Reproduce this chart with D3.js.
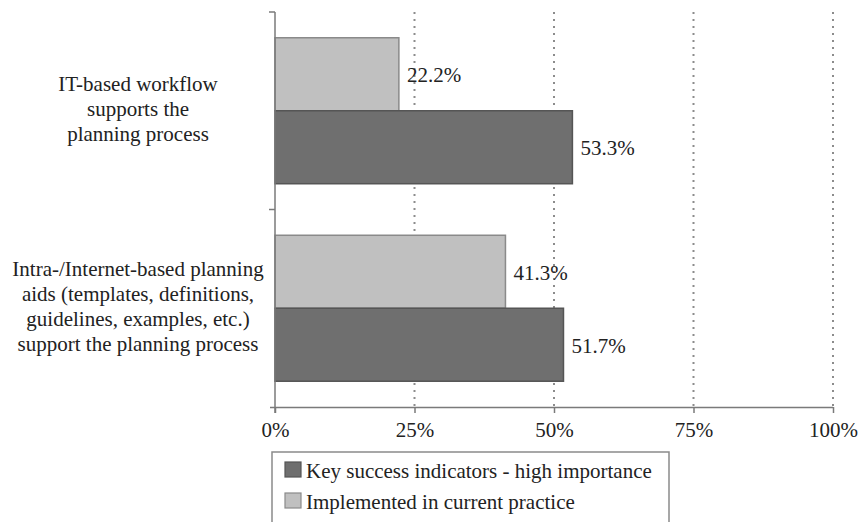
<!DOCTYPE html>
<html>
<head>
<meta charset="utf-8">
<script src="https://cdn.jsdelivr.net/npm/d3@7"></script>
<style>
  html, body { margin: 0; padding: 0; background: #fff; }
  svg { display: block; }
  svg text { font-family: "Liberation Serif", "Times New Roman", Times, "Noto Serif", "DejaVu Serif", serif !important; }
</style>
</head>
<body>
<svg id="chart" width="862" height="522"></svg>
<script>
// Categories (top to bottom), each drawn as a list of wrapped lines
const categories = [
  "IT-based workflow supports the planning process",
  "Intra-/Internet-based planning aids (templates, definitions, guidelines, examples, etc.) support the planning process"
];
const categoryLines = [
  ["IT-based workflow", "supports the", "planning process"],
  ["Intra-/Internet-based planning", "aids (templates, definitions,", "guidelines, examples, etc.)", "support the planning process"]
];
const seriesNames = ["Implemented in current practice", "Key success indicators - high importance"];
const implemented = [22.2, 41.3];
const keySuccess = [53.3, 51.7];
const xTicks = [0, 25, 50, 75, 100];
const legendOrder = ["Key success indicators - high importance", "Implemented in current practice"];

const colors = {
  "Implemented in current practice": "#c0c0c0",
  "Key success indicators - high importance": "#6f6f6f"
};
const strokes = {
  "Implemented in current practice": "#8a8a8a",
  "Key success indicators - high importance": "#555555"
};

const svg = d3.select("#chart");
const margin = { left: 275, right: 29, top: 12, bottom: 115 };
const W = 862, H = 522;
const x = d3.scaleLinear().domain([0, 100]).range([margin.left, W - margin.right]);
const y = d3.scaleBand().domain(categories).range([margin.top, H - margin.bottom]).paddingInner(0).paddingOuter(0);
const inner = d3.scaleBand().domain(seriesNames).range([0, y.bandwidth()]).paddingInner(0).paddingOuter(0.353);

const axisColor = "#7a7a7a";
const textColor = "#222";

// dotted gridlines
svg.append("g").selectAll("line")
  .data(xTicks.filter(d => d > 0))
  .join("line")
  .attr("x1", d => x(d)).attr("x2", d => x(d))
  .attr("y1", margin.top).attr("y2", H - margin.bottom)
  .attr("stroke", "#8c8c8c").attr("stroke-width", 2)
  .attr("stroke-dasharray", "2,5");

// bars
const rows = categories.map((c, i) => ({ cat: c, values: [
  { series: seriesNames[0], value: implemented[i] },
  { series: seriesNames[1], value: keySuccess[i] }
]}));

const groups = svg.append("g").selectAll("g")
  .data(rows).join("g")
  .attr("transform", d => `translate(0,${y(d.cat)})`);

groups.selectAll("rect")
  .data(d => d.values).join("rect")
  .attr("x", x(0))
  .attr("y", d => inner(d.series))
  .attr("width", d => x(d.value) - x(0))
  .attr("height", inner.bandwidth())
  .attr("fill", d => colors[d.series])
  .attr("stroke", d => strokes[d.series])
  .attr("stroke-width", 1.5);

groups.selectAll("text.val")
  .data(d => d.values).join("text")
  .attr("class", "val")
  .attr("x", d => x(d.value) + 8)
  .attr("y", d => inner(d.series) + inner.bandwidth() / 2 + 3)
  .attr("dominant-baseline", "middle")
  .attr("font-size", 21)
  .attr("fill", textColor)
  .text(d => d.value.toFixed(1) + "%");

// x axis
const xAxis = svg.append("g")
  .attr("transform", `translate(0,${H - margin.bottom})`)
  .call(d3.axisBottom(x).tickValues(xTicks).tickFormat(d => d + "%").tickSize(6).tickSizeOuter(0));
xAxis.select(".domain").attr("stroke", axisColor).attr("stroke-width", 1.5)
  .attr("d", `M${x(0) - 5},0.5H${x(100)}`);
xAxis.selectAll(".tick line").attr("stroke", axisColor).attr("stroke-width", 1.5);
xAxis.selectAll(".tick text").attr("font-size", 21).attr("fill", textColor).attr("dy", "1.0em");

// y axis with ticks at category boundaries
const yLine = svg.append("g");
yLine.append("line")
  .attr("x1", x(0)).attr("x2", x(0))
  .attr("y1", margin.top).attr("y2", H - margin.bottom + 6)
  .attr("stroke", axisColor).attr("stroke-width", 1.5);
const boundaries = categories.map(c => y(c));
yLine.selectAll("line.tk").data(boundaries).join("line")
  .attr("class", "tk")
  .attr("x1", x(0) - 6).attr("x2", x(0))
  .attr("y1", d => d).attr("y2", d => d)
  .attr("stroke", axisColor).attr("stroke-width", 1.5);

// category labels
const lineH = 25;
svg.append("g").selectAll("text")
  .data(categories).join("text")
  .attr("text-anchor", "middle")
  .attr("font-size", 21)
  .attr("fill", textColor)
  .each(function (c, i) {
    const lines = categoryLines[i];
    const cy = y(c) + y.bandwidth() / 2;
    const t = d3.select(this);
    lines.forEach((ln, k) => {
      t.append("tspan")
        .attr("x", 138)
        .attr("y", cy + (k - (lines.length - 1) / 2) * lineH)
        .attr("dominant-baseline", "middle")
        .text(ln);
    });
  });

// legend
const legend = svg.append("g").attr("transform", "translate(272,452)");
legend.append("rect")
  .attr("x", 0).attr("y", 0).attr("width", 397).attr("height", 80)
  .attr("fill", "#fff").attr("stroke", "#8a8a8a").attr("stroke-width", 1.5);
legendOrder.forEach((name, i) => {
  const g = legend.append("g").attr("transform", `translate(13,${10 + i * 31})`);
  g.append("rect").attr("width", 16).attr("height", 15)
    .attr("fill", colors[name]).attr("stroke", strokes[name]).attr("stroke-width", 1.2);
  g.append("text").attr("x", 21).attr("y", 11).attr("dominant-baseline", "middle")
    .attr("font-size", 21).attr("fill", textColor).text(name);
});
</script>
</body>
</html>
